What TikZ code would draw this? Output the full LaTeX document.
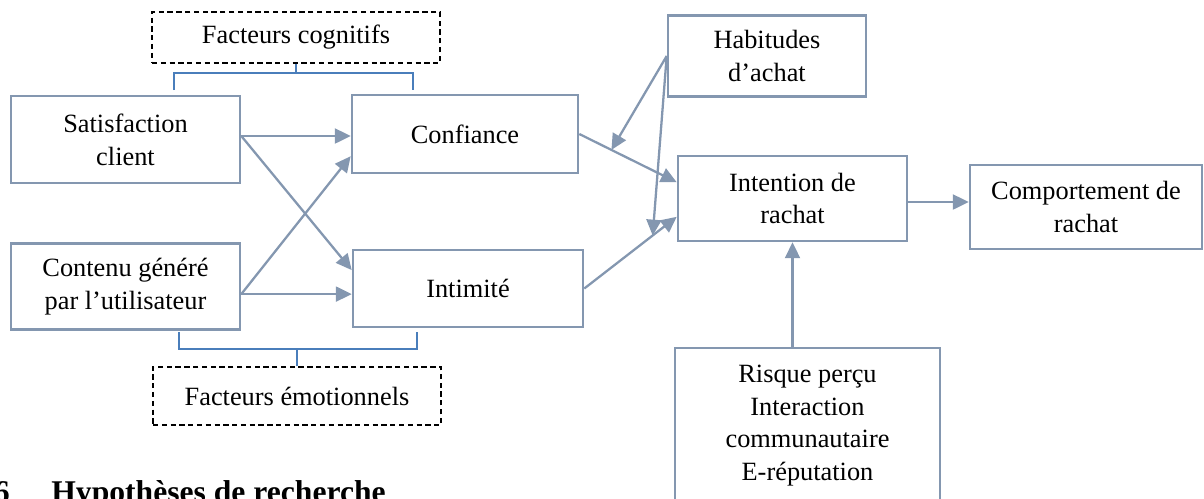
\documentclass[tikz,border=0pt]{standalone}
\usepackage{fontspec}
\setmainfont{Liberation Serif}
\usepackage{xcolor}
\usetikzlibrary{arrows.meta, positioning, calc}
\definecolor{boxline}{HTML}{8497B0}
\definecolor{bracketblue}{HTML}{4A7EBB}

\begin{document}
\begin{tikzpicture}[
    x=0.02cm, y=-0.02cm,
    block/.style={rectangle, draw=boxline, line width=1.5pt, fill=white, align=center, inner sep=0pt, font=\fontsize{15}{18.7}\selectfont},
    factor/.style={rectangle, draw=black, dash pattern=on 3pt off 2pt, line width=0.8pt, align=center, inner sep=0pt, font=\fontsize{15}{18.7}\selectfont},
    arrow/.style={-{Triangle[length=9pt,width=8.5pt]}, draw=boxline, line width=1.3pt},
    bracket/.style={draw=bracketblue, line width=0.9pt},
    heading/.style={font=\fontsize{18}{22}\selectfont\bfseries, inner sep=0pt}
]
\useasboundingbox (0,0) rectangle (1204,498);

% Antecedents
\node[block, minimum width=4.58cm, minimum height=1.74cm] (sat) at (125.5,139.5) {Satisfaction\\client};
\node[block, minimum width=4.58cm, minimum height=1.72cm, below=1.16cm of sat] (cont) {Contenu généré\\par l’utilisateur};

% Mediators
\node[block, minimum width=4.52cm, minimum height=1.56cm] (conf) at (465,134) {Confiance};
\node[block, minimum width=4.6cm, minimum height=1.54cm] (intim) at (468,288.5) {Intimité};

% Factor groups
\node[factor, minimum width=5.76cm, minimum height=1.02cm] (cog) at (296,37.5) {Facteurs cognitifs};
\node[factor, minimum width=5.76cm, minimum height=1.16cm] (emo) at (297,396) {Facteurs émotionnels};

% Outcomes
\node[block, minimum width=3.96cm, minimum height=1.62cm] (hab) at (767,56) {Habitudes\\d’achat};
\node[block, minimum width=4.58cm, minimum height=1.7cm] (inten) at (792.5,198.5) {Intention de\\rachat};
\node[block, minimum width=4.64cm, minimum height=1.68cm] (comp) at (1086,207) {Comportement de\\rachat};
\node[block, minimum width=5.3cm, minimum height=3.1cm] (risk) at (807.5,425.5) {Risque perçu\\Interaction\\communautaire\\E-réputation};

% Section heading
\node[heading, anchor=base east] (secnum) at (10,502) {6};
\node[heading, anchor=base west] (sectitle) at (51,502) {Hypothèses de recherche};

% Brackets
\coordinate (cogL) at (174,90);
\coordinate (cogR) at (413,90);
\coordinate (emoL) at (179,332);
\coordinate (emoR) at (417,332);
\draw[bracket] (cogL) -- ++(0,-17) -| (cogR);
\draw[bracket] (cog.south) -- ++(0,10);
\draw[bracket] (emoL) -- ++(0,17) -| (emoR);
\draw[bracket] (emo.north) -- ++(0,-18);

% Arrow start points
\coordinate (satout) at ($(sat.east)+(0,-3.5)$);
\coordinate (contout) at ($(cont.east)+(0,7.5)$);
\coordinate (intenout) at ($(inten.east)+(0,3.5)$);

% Arrows - antecedents to mediators
\draw[arrow] (satout) -- (conf.west |- satout);
\draw[arrow] (satout) -- (intim.171);
\draw[arrow] (contout) -- (conf.191);
\draw[arrow] (contout) -- (intim.west |- contout);

% Arrows - mediators to intention
\draw[arrow] (conf.east) -- (inten.172);
\draw[arrow] (intim.east) -- (inten.189);

% Arrows - moderation by habits
\path (conf.east) -- coordinate[pos=0.33] (modA) (inten.172);
\path (intim.east) -- coordinate[pos=0.74] (modB) (inten.189);
\draw[arrow] (hab.west) -- (modA);
\draw[arrow] (hab.west) -- (modB);

% Arrows - outcome
\draw[arrow] (intenout) -- (comp.west |- intenout);
\draw[arrow] (risk.north -| inten.south) -- (inten.south);

\end{tikzpicture}
\end{document}
